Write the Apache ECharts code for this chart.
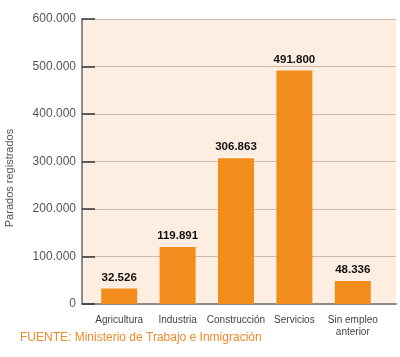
<!DOCTYPE html>
<html>
<head>
<meta charset="utf-8">
<script src="https://cdn.jsdelivr.net/npm/echarts@6/dist/echarts.min.js"></script>
<style>
html,body{margin:0;padding:0;background:#fff;}
#c{width:400px;height:357px;}
</style>
</head>
<body>
<div id="c"></div>
<script>
var categories = ['Agricultura', 'Industria', 'Construcción', 'Servicios', 'Sin empleo\nanterior'];
var parados = [32526, 119891, 306863, 491800, 48336];
var yTicks = [0, 100000, 200000, 300000, 400000, 500000, 600000];
var yAxisTitle = 'Parados registrados';
var sourceText = 'FUENTE: Ministerio de Trabajo e Inmigración';

function fmt(n) { return String(n).replace(/\B(?=(\d{3})+(?!\d))/g, '.'); }

var chart = echarts.init(document.getElementById('c'), null, {renderer: 'canvas'});
var FONT = '"Liberation Sans", Arial, sans-serif';
chart.setOption({
  animation: false,
  textStyle: {fontFamily: FONT},
  grid: [
    {left: 82, top: 19, width: 314, height: 285, show: true, backgroundColor: '#FDEEE1', borderWidth: 0},
    {left: 90, top: 19, width: 292, height: 285}
  ],
  xAxis: [
    {gridIndex: 0, type: 'value', min: 0, max: 1, axisLine: {show: true, lineStyle: {color: '#8c8c8c', width: 2}},
     axisTick: {show: false}, axisLabel: {show: false}, splitLine: {show: false}},
    {gridIndex: 1, type: 'category', data: categories, axisLine: {show: false}, axisTick: {show: false},
     axisLabel: {interval: 0, hideOverlap: false, fontSize: 10, color: '#444', margin: 10, lineHeight: 12, fontFamily: FONT}}
  ],
  yAxis: [
    {gridIndex: 0, type: 'value', min: yTicks[0], max: yTicks[yTicks.length - 1], interval: 100000,
     axisLine: {show: true, lineStyle: {color: '#8c8c8c', width: 2}},
     axisTick: {show: true, inside: true, length: 13, lineStyle: {color: '#333', width: 1.5}},
     axisLabel: {fontSize: 12, color: '#555', margin: 6, formatter: function (v) { return fmt(v); }, fontFamily: FONT},
     splitLine: {show: true, lineStyle: {color: '#C9B9AA', width: 1}}},
    {gridIndex: 1, type: 'value', min: yTicks[0], max: yTicks[yTicks.length - 1], show: false}
  ],
  series: [{
    type: 'bar',
    xAxisIndex: 1,
    yAxisIndex: 1,
    data: parados,
    barWidth: 36,
    itemStyle: {color: '#F28C1C'},
    label: {show: true, position: 'top', distance: 5, fontSize: 11.5, fontWeight: 'bold', color: '#111',
      fontFamily: FONT, formatter: function (p) { return fmt(p.value); }}
  }],
  graphic: [
    {type: 'text', x: 10, y: 178, rotation: Math.PI / 2,
     style: {text: yAxisTitle, fontSize: 11, fill: '#555', fontFamily: FONT, textAlign: 'center', textVerticalAlign: 'middle'}},
    {type: 'text', left: 20, top: 332,
     style: {text: sourceText, fontSize: 12, fill: '#F0892A', fontFamily: FONT}}
  ]
});
</script>
</body>
</html>
